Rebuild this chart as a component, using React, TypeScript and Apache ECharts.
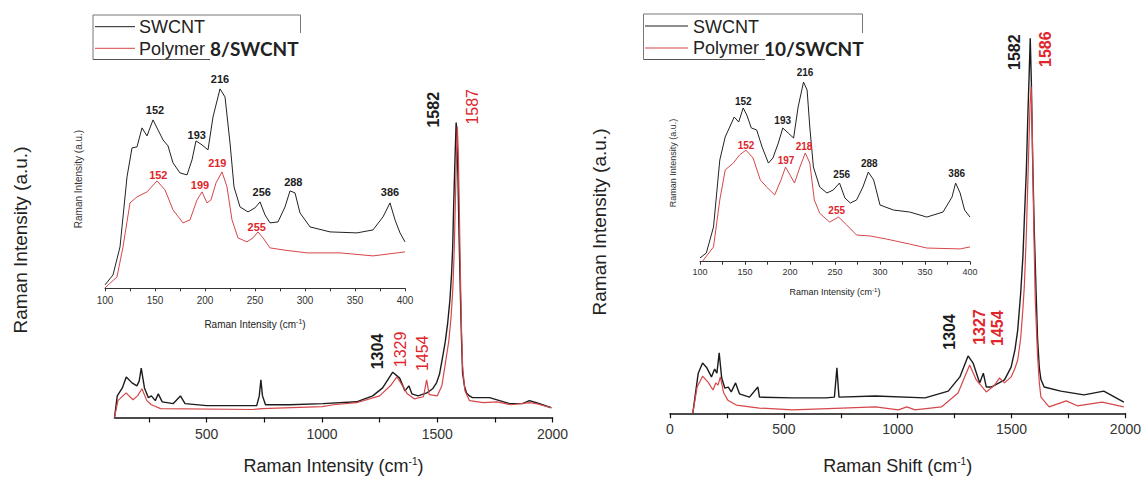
import React, { useEffect, useRef } from 'react';
import * as echarts from 'echarts';

// ---------- Left panel (Polymer 8 / SWCNT), main spectrum ----------
const lmSwcntX = [100,112,134,151,176,197,207,216,230,247,260,277,290,307,355,386,406,500,717,728,735,742,755,860,1004,1150,1220,1263,1307,1337,1360,1377,1390,1417,1455,1480,1497,1510,1524,1535,1545,1555,1562,1567,1571,1577,1582,1586,1590,1595,1600,1605,1610,1618,1627,1640,1653,1727,1814,1870,1900,1930,1995];
const lmSwcntY = [0,7.3,10,13.7,11.7,10.7,12.3,16.7,10,6.7,7.3,5.7,8,5.3,4.7,7.3,4.7,4,4,7.3,12.7,7.3,4.3,4.3,4.7,5.3,7.3,10,15.3,13.3,9,10.7,8,7.3,8.3,9.7,11.7,14.7,20.7,25.7,31.7,39.7,48.3,57.3,70.7,87.3,99.7,95.7,80.7,60.7,43,27.3,15,10.7,8.3,7.3,6.7,6.7,4.7,4.7,5.7,5,3.3];
const lmPolyX = [100,115,150,180,200,219,240,260,300,700,740,1000,1050,1150,1250,1300,1325,1345,1370,1400,1440,1454,1465,1500,1520,1540,1550,1560,1568,1574,1580,1587,1591,1595,1600,1605,1610,1620,1640,1700,1760,1820,1900,1930,1995];
const lmPolyY = [0,5.7,8.3,6,7.3,9.7,5.7,4.3,3,2.7,3,3.7,4.3,5,7.3,11,13.7,11.3,8,6.3,7,12.7,7.7,7.3,10.7,20.7,25.7,34,44,57.3,77.3,98.3,90.7,74,50.7,30.7,17.3,9,5.7,5,5.3,4.3,5,4.7,3.3];

// ---------- Left panel inset (100-400 cm-1) ----------
const liSwcntX = [100,108,115,122,127,132,137,142,148,153,158,163,168,175,182,187,191,197,203,208,215,220,225,229,235,243,250,255,260,265,273,280,285,290,295,305,325,352,368,378,385,390,395,400];
const liSwcntY = [1.7,6.7,20.7,55.7,70.2,70.7,80.2,76.2,84.2,79.2,74.2,71.2,62.7,57.7,56.7,64.2,73.7,71.7,69.2,85.7,99.7,95.7,72.7,50.7,40.7,38.2,40.2,43.2,36.7,32.7,33.2,40.7,48.7,47.7,37.7,30.7,28.2,27.7,29.2,35.7,42.7,34.2,27.7,23.2];
const liPolyX = [100,112,118,125,132,142,152,160,168,178,185,192,197,202,206,211,217,222,227,233,242,248,253,258,265,278,302,335,368,400];
const liPolyY = [0.2,5.7,20.7,42.7,45.7,48.2,53.7,49.2,39.2,32.7,34.2,44.2,48.2,42.7,44.2,52.7,58.2,50.7,34.2,25.2,23.2,25.2,28.2,25.2,20.2,19.2,17.7,17.7,16.2,18.2];

// ---------- Right panel (Polymer 10 / SWCNT), main spectrum ----------
const rmSwcntX = [100,124,143,160,182,196,206,216,227,241,256,269,288,305,349,386,393,538,684,722,733,742,902,1120,1222,1273,1309,1331,1360,1376,1389,1411,1469,1498,1515,1527,1540,1550,1556,1565,1571,1577,1582,1587,1592,1600,1607,1614,1622,1629,1643,1716,1818,1905,1993];
const rmSwcntY = [0,10.7,13.4,12.3,9.7,11.8,10.7,16.1,9.4,6.7,7,5.7,8.1,5.2,4.3,7,4.3,4.1,4.1,4.3,12.1,4.3,4.6,4.1,5.9,9.7,15.3,13.4,8.1,10.7,7,7,8.9,12.3,17,22.2,32,42,51.5,65,78.2,90,100,88,69.4,48,33.7,20,12,9,7,5.9,4.9,5.9,3];
const rmPolyX = [100,119,143,167,189,201,211,221,236,254,291,393,538,756,902,1003,1040,1076,1192,1265,1316,1345,1389,1425,1447,1469,1498,1515,1527,1540,1550,1556,1565,1575,1581,1586,1591,1597,1604,1614,1622,1629,1665,1740,1789,1898,1993];
const rmPolyY = [0,7,9.9,8.3,6.2,8.1,7.5,9.7,5.4,3.5,2.2,1.4,0.9,1.4,1.7,0.9,1.7,0.9,1.7,5.4,12.9,8.9,5.7,7.5,9.4,8.1,9.7,12,14.2,20,28,33.9,48,69.4,82,87.1,75,51.5,30.2,15.5,8,4.3,1.7,3.3,2,3,1.7];

// ---------- Right panel inset ----------
const riSwcntX = [100,107,115,122,128,133,138,143,148,152,157,163,169,176,181,187,192,198,204,209,215,219,222,226,233,241,248,255,261,267,274,281,287,293,300,315,333,352,370,380,384,389,394,400];
const riSwcntY = [2.1,4.8,19.3,56.5,69.3,74.8,80.4,77.6,85.4,81.5,74.3,73.2,63.7,54.8,57.6,65.9,74.3,71.5,68.7,85.9,99.8,95.4,74.8,52.6,41.5,38.2,39.8,43.7,35.4,32.6,34.3,41.5,49.8,45.4,31.5,28.7,27.6,24.8,27.6,35.9,43.7,38.2,28.7,24.8];
const riPolyX = [103,115,122,128,137,144,151,159,167,174,183,190,195,200,205,211,217,222,227,233,244,254,263,274,289,307,333,352,389,400];
const riPolyY = [0.4,8.2,34.3,51,54.8,59.3,62,57.6,45.4,41.5,37.1,45.4,52.6,48.2,43.7,52.6,60.4,54.8,34.3,26.9,22,24.8,20.4,14.8,14.3,12.6,9.8,7.6,7.1,8.2];

// ---------- Tick values ----------
const leftMainTicks = [250,500,750,1000,1250,1500,1750,2000];
const leftMainLabels = [500,1000,1500,2000];

// ---------- Peak annotations ----------
type Lbl = { t: string; x: number; y: number };
const lmBlackPeaks: Lbl[] = [{ t: '1582', x: 1482, y: 104 }, { t: '1304', x: 1239, y: 22.3 }];
const lmRedPeaks: Lbl[] = [{ t: '1587', x: 1651, y: 105 }, { t: '1329', x: 1339, y: 23 }, { t: '1454', x: 1434, y: 21.7 }];
const liBlackPeaks: Lbl[] = [
  { t: '152', x: 150, y: 89.2 }, { t: '193', x: 191.7, y: 76.7 }, { t: '216', x: 215, y: 104.7 },
  { t: '256', x: 256.7, y: 48.3 }, { t: '288', x: 288.3, y: 53.3 }, { t: '386', x: 385, y: 48.3 },
];
const liRedPeaks: Lbl[] = [
  { t: '152', x: 153.3, y: 56.7 }, { t: '199', x: 195, y: 51.7 }, { t: '219', x: 212.3, y: 62.5 }, { t: '255', x: 251.7, y: 30.8 },
];
const rmBlackPeaks: Lbl[] = [{ t: '1582', x: 1513, y: 96.3 }, { t: '1304', x: 1229, y: 21.7 }];
const rmRedPeaks: Lbl[] = [{ t: '1586', x: 1651, y: 97.1 }, { t: '1327', x: 1360, y: 23 }, { t: '1454', x: 1440, y: 22.7 }];
const riBlackPeaks: Lbl[] = [
  { t: '152', x: 148.1, y: 88.9 }, { t: '193', x: 191.9, y: 78.3 }, { t: '216', x: 216.7, y: 105.2 },
  { t: '256', x: 257.4, y: 48.2 }, { t: '288', x: 288.1, y: 54.7 }, { t: '386', x: 385.2, y: 49.1 },
];
const riRedPeaks: Lbl[] = [
  { t: '152', x: 151.1, y: 64.8 }, { t: '197', x: 195.6, y: 56.1 }, { t: '218', x: 215.6, y: 63.9 }, { t: '255', x: 251.9, y: 28.7 },
];

const FONT = '"Liberation Sans", Arial, Helvetica, sans-serif';
const BLACK = '#1c1c1c';
const RED_LINE = '#d5474a';
const RED_TEXT = '#e0262b';

const zip = (xs: number[], ys: number[]) => xs.map((x, i) => [x, ys[i]]);
const plain = (v: number) => String(v);

function marks(labels: Lbl[], color: string, fontSize: number, weight: string, rotate: number) {
  return {
    symbol: 'circle',
    symbolSize: 1,
    silent: true,
    animation: false,
    itemStyle: { color: 'rgba(0,0,0,0)' },
    label: {
      show: true, position: 'inside', color, fontSize, fontWeight: weight, fontFamily: FONT, rotate,
      formatter: (p: any) => p.name,
    },
    data: labels.map((l) => ({ name: l.t, coord: [l.x, l.y] })),
  };
}

function lineSeries(idx: number, name: string, xs: number[], ys: number[], color: string, width: number, mp: any) {
  return {
    type: 'line', name, xAxisIndex: idx, yAxisIndex: idx,
    data: zip(xs, ys), showSymbol: false, symbol: 'none', silent: true,
    lineStyle: { color, width }, itemStyle: { color }, markPoint: mp,
  };
}

const nameStyle = (fs: number, sup: number) => ({
  fontSize: fs, color: '#222', fontFamily: FONT,
  rich: { sup: { fontSize: sup, color: '#222', fontFamily: FONT, verticalAlign: 'top', padding: [0, 0, fs * 0.5, 0] } },
});

export default function App() {
  const ref = useRef<HTMLDivElement>(null);
  useEffect(() => {
    if (!ref.current) return;
    const chart = echarts.init(ref.current, null, { renderer: 'svg' });
    const axisCol = '#111';
    const option: any = {
      animation: false,
      backgroundColor: '#ffffff',
      grid: [
        { left: 114.5, top: 92, width: 438, height: 330 },
        { left: 105, top: 68.3, width: 300, height: 220 },
        { left: 670, top: 19.5, width: 458.3, height: 393.8 },
        { left: 700, top: 63.7, width: 270, height: 198 },
      ],
      xAxis: [
        {
          gridIndex: 0, type: 'value', min: 100, max: 2000,
          axisLine: { show: true, onZero: false, lineStyle: { color: axisCol, width: 1.5 } },
          axisTick: { show: true, customValues: leftMainTicks, length: 5, lineStyle: { color: axisCol, width: 1.2 } },
          axisLabel: { customValues: leftMainLabels, fontSize: 14, color: '#333', margin: 9, fontFamily: FONT, formatter: plain },
          splitLine: { show: false },
          name: 'Raman Intensity (cm{sup|-1})', nameLocation: 'middle', nameGap: 39, nameTextStyle: nameStyle(18, 10),
        },
        {
          gridIndex: 1, type: 'value', min: 100, max: 400, interval: 50,
          axisLine: { show: true, onZero: false, lineStyle: { color: '#333', width: 1 } },
          axisTick: { show: true, length: 3, lineStyle: { color: '#333', width: 1 } },
          minorTick: { show: true, splitNumber: 2, length: 3, lineStyle: { color: '#333', width: 1 } },
          axisLabel: { fontSize: 10, color: '#333', margin: 7, fontFamily: FONT, formatter: plain },
          splitLine: { show: false }, minorSplitLine: { show: false },
          name: 'Raman Intensity (cm{sup|-1})', nameLocation: 'middle', nameGap: 30, nameTextStyle: nameStyle(10, 7),
        },
        {
          gridIndex: 2, type: 'value', min: 0, max: 2000, interval: 500,
          axisLine: { show: true, onZero: false, lineStyle: { color: axisCol, width: 1.5 } },
          axisTick: { show: true, length: 5, lineStyle: { color: axisCol, width: 1.2 } },
          minorTick: { show: true, splitNumber: 2, length: 5, lineStyle: { color: axisCol, width: 1.2 } },
          axisLabel: { fontSize: 14, color: '#333', margin: 9, fontFamily: FONT, formatter: plain },
          splitLine: { show: false }, minorSplitLine: { show: false },
          name: 'Raman Shift (cm{sup|-1})', nameLocation: 'middle', nameGap: 43, nameTextStyle: nameStyle(18, 10),
        },
        {
          gridIndex: 3, type: 'value', min: 100, max: 400, interval: 50,
          axisLine: { show: true, onZero: false, lineStyle: { color: '#333', width: 1 } },
          axisTick: { show: true, length: 3, lineStyle: { color: '#333', width: 1 } },
          minorTick: { show: true, splitNumber: 2, length: 3, lineStyle: { color: '#333', width: 1 } },
          axisLabel: { fontSize: 9, color: '#333', margin: 6, fontFamily: FONT, formatter: plain },
          splitLine: { show: false }, minorSplitLine: { show: false },
          name: 'Raman Intensity (cm{sup|-1})', nameLocation: 'middle', nameGap: 25, nameTextStyle: nameStyle(9, 6),
        },
      ],
      yAxis: [
        { gridIndex: 0, type: 'value', min: 0, max: 110, show: false },
        { gridIndex: 1, type: 'value', min: 0, max: 110, show: false },
        { gridIndex: 2, type: 'value', min: 0, max: 105, show: false },
        { gridIndex: 3, type: 'value', min: 0, max: 110, show: false },
      ],
      series: [
        lineSeries(0, 'SWCNT', lmSwcntX, lmSwcntY, BLACK, 1.4, marks(lmBlackPeaks, BLACK, 16, 'bold', 90)),
        lineSeries(0, 'Polymer 8/SWCNT', lmPolyX, lmPolyY, RED_LINE, 1.2, marks(lmRedPeaks, RED_TEXT, 16, 'normal', 90)),
        lineSeries(1, 'SWCNT inset', liSwcntX, liSwcntY, '#222', 1, marks(liBlackPeaks, BLACK, 11, 'bold', 0)),
        lineSeries(1, 'Polymer 8/SWCNT inset', liPolyX, liPolyY, RED_LINE, 1, marks(liRedPeaks, RED_TEXT, 11, 'bold', 0)),
        lineSeries(2, 'SWCNT ', rmSwcntX, rmSwcntY, BLACK, 1.4, marks(rmBlackPeaks, BLACK, 16, 'bold', 90)),
        lineSeries(2, 'Polymer 10/SWCNT', rmPolyX, rmPolyY, RED_LINE, 1.2, marks(rmRedPeaks, RED_TEXT, 16, 'bold', 90)),
        lineSeries(3, 'SWCNT inset ', riSwcntX, riSwcntY, '#222', 1, marks(riBlackPeaks, BLACK, 10, 'bold', 0)),
        lineSeries(3, 'Polymer 10/SWCNT inset', riPolyX, riPolyY, RED_LINE, 1, marks(riRedPeaks, RED_TEXT, 10, 'bold', 0)),
      ],
      graphic: [
        // legend frames
        { type: 'polyline', shape: { points: [[93, 59.5], [93, 15], [300.5, 15], [300.5, 33]] }, style: { stroke: '#777', lineWidth: 1, fill: null } },
        { type: 'line', shape: { x1: 93, y1: 59.5, x2: 210, y2: 59.5 }, style: { stroke: '#555', lineWidth: 1 } },
        { type: 'polyline', shape: { points: [[643.5, 59.5], [643.5, 14], [862.5, 14], [862.5, 33]] }, style: { stroke: '#777', lineWidth: 1, fill: null } },
        { type: 'line', shape: { x1: 643.5, y1: 59.5, x2: 765, y2: 59.5 }, style: { stroke: '#555', lineWidth: 1 } },
        // legend samples
        { type: 'line', shape: { x1: 95, y1: 26.7, x2: 135, y2: 26.7 }, style: { stroke: BLACK, lineWidth: 1 } },
        { type: 'line', shape: { x1: 95, y1: 48.3, x2: 135, y2: 48.3 }, style: { stroke: RED_LINE, lineWidth: 1 } },
        { type: 'line', shape: { x1: 645, y1: 26, x2: 688, y2: 26 }, style: { stroke: BLACK, lineWidth: 1 } },
        { type: 'line', shape: { x1: 645, y1: 48, x2: 688, y2: 48 }, style: { stroke: RED_LINE, lineWidth: 1 } },
        { type: 'text', x: 139, y: 27, style: { text: 'SWCNT', fontSize: 18, fontFamily: FONT, fill: '#222', verticalAlign: 'middle' } },
        { type: 'text', x: 139, y: 48.5, style: { text: 'Polymer {b|8/SWCNT}', fontSize: 18, fontFamily: FONT, fill: '#222', verticalAlign: 'middle', rich: { b: { fontSize: 19, fontWeight: 'bold', fontFamily: 'Lato, "Liberation Sans", sans-serif', fill: '#222' } } } },
        { type: 'text', x: 693, y: 26.5, style: { text: 'SWCNT', fontSize: 18, fontFamily: FONT, fill: '#222', verticalAlign: 'middle' } },
        { type: 'text', x: 693, y: 48, style: { text: 'Polymer {b|10/SWCNT}', fontSize: 18, fontFamily: FONT, fill: '#222', verticalAlign: 'middle', rich: { b: { fontSize: 19, fontWeight: 'bold', fontFamily: 'Lato, "Liberation Sans", sans-serif', fill: '#222' } } } },
        // y-axis titles
        { type: 'text', x: 20, y: 240, rotation: Math.PI / 2, style: { text: 'Raman Intensity (a.u.)', fontSize: 19, fontFamily: FONT, fill: '#222', align: 'center', verticalAlign: 'middle' } },
        { type: 'text', x: 599, y: 222, rotation: Math.PI / 2, style: { text: 'Raman Intensity (a.u.)', fontSize: 19, fontFamily: FONT, fill: '#222', align: 'center', verticalAlign: 'middle' } },
        { type: 'text', x: 78, y: 179, rotation: Math.PI / 2, style: { text: 'Raman Intensity (a.u.)', fontSize: 10, fontFamily: FONT, fill: '#333', align: 'center', verticalAlign: 'middle' } },
        { type: 'text', x: 673, y: 163, rotation: Math.PI / 2, style: { text: 'Raman Intensity (a.u.)', fontSize: 9, fontFamily: FONT, fill: '#333', align: 'center', verticalAlign: 'middle' } },
      ],
    };
    chart.setOption(option);
    return () => chart.dispose();
  }, []);
  return <div ref={ref} style={{ position: 'fixed', left: 0, top: 0, width: 1144, height: 480, background: '#fff' }} />;
}
